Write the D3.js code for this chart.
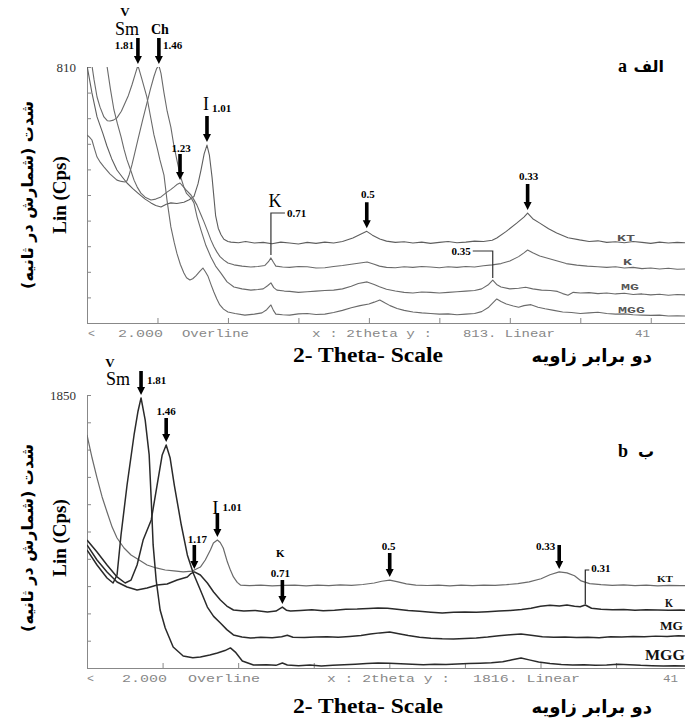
<!DOCTYPE html>
<html>
<head>
<meta charset="utf-8">
<script src="https://cdn.jsdelivr.net/npm/d3@7"></script>
<style>
  body { margin: 0; background: #fff; }
  text { font-family: "Liberation Serif", "DejaVu Serif", serif; }
  .fa { font-family: "DejaVu Sans", sans-serif; font-weight: bold; }
  .mono { font-family: "Liberation Mono", "DejaVu Sans Mono", monospace; }
</style>
</head>
<body>
<div id="chart"></div>
<script>
// ---- panel a (2theta, counts) ----
var ktA = [[2.0,815],[2.28,728],[2.57,652],[2.9,600],[3.13,560],[3.4,520],[3.7,484],[4.0,462],[4.27,443],[4.6,425],[4.89,411],[5.3,392],[5.63,380],[5.9,372],[6.2,367],[6.5,376],[6.76,380],[7.1,378],[7.5,382],[7.8,390],[8.07,400],[8.3,440],[8.47,484],[8.65,535],[8.81,563],[8.95,530],[9.1,460],[9.2,400],[9.3,340],[9.45,300],[9.6,280],[9.77,265],[10.0,258],[10.17,256],[10.6,254],[11.0,258],[11.5,253],[12.0,255],[12.5,251],[13.0,256],[13.5,253],[14.0,250],[14.5,255],[15.0,252],[15.5,256],[16.0,253],[16.5,258],[17.09,269],[17.5,280],[17.88,290],[18.2,278],[18.62,266],[19.0,259],[19.5,255],[20.0,257],[20.5,253],[21.0,256],[21.5,252],[22.0,255],[22.5,258],[23.0,254],[23.5,256],[24.0,259],[24.5,258],[25.0,262],[25.26,269],[25.8,290],[26.39,316],[26.8,335],[27.01,348],[27.3,330],[27.7,316],[28.2,298],[28.66,285],[29.3,270],[29.96,263],[30.5,258],[31.0,260],[31.5,255],[32.0,257],[32.5,254],[33.0,258],[33.5,255],[34.0,252],[34.5,256],[35.0,253],[35.5,255],[36.0,254]];
var kA = [[3.13,815],[3.33,740],[3.53,674],[3.73,630],[3.93,590],[4.1,550],[4.27,516],[4.5,480],[4.67,452],[4.85,430],[5.06,411],[5.3,398],[5.63,389],[5.9,392],[6.2,399],[6.54,414],[6.75,422],[6.93,430],[7.1,438],[7.28,443],[7.45,432],[7.62,421],[7.9,405],[8.05,392],[8.24,373],[8.45,345],[8.64,320],[8.85,290],[9.03,263],[9.2,242],[9.37,225],[9.55,210],[9.77,199],[10.0,190],[10.34,184],[10.8,180],[11.3,177],[11.7,179],[12.1,182],[12.3,194],[12.44,206],[12.58,192],[12.72,180],[13.1,177],[13.5,176],[14.0,179],[14.5,178],[15.0,174],[15.5,175],[16.0,179],[16.5,182],[17.0,186],[17.5,190],[17.9,193],[18.3,186],[18.6,180],[19.0,176],[19.5,175],[20.0,178],[20.5,176],[21.0,179],[21.5,177],[22.0,175],[22.5,178],[23.0,176],[23.5,179],[24.0,177],[24.5,181],[25.0,184],[25.5,188],[26.0,196],[26.5,210],[26.8,222],[27.01,231],[27.3,222],[27.7,212],[28.2,204],[28.7,196],[29.2,188],[29.8,183],[30.4,180],[31.0,178],[31.5,176],[32.0,178],[32.5,174],[33.0,176],[33.5,172],[34.0,174],[34.5,171],[35.0,173],[35.5,170],[36.0,171]];
var mgA = [[2.0,595],[2.14,588],[2.28,579],[2.43,550],[2.57,525],[2.76,508],[2.96,494],[3.3,472],[3.7,452],[3.95,448],[4.16,446],[4.27,450],[4.4,470],[4.55,500],[4.7,535],[4.89,580],[5.15,640],[5.4,696],[5.6,740],[5.8,780],[5.95,805],[6.08,815],[6.2,790],[6.37,728],[6.55,670],[6.76,620],[6.92,565],[7.1,516],[7.3,465],[7.5,430],[7.65,410],[7.84,399],[7.95,392],[8.07,380],[8.25,335],[8.47,294],[8.75,245],[9.03,209],[9.3,180],[9.6,158],[9.95,130],[10.34,114],[10.8,108],[11.3,104],[11.7,106],[12.0,108],[12.25,118],[12.44,127],[12.6,112],[12.78,104],[13.2,101],[13.5,100],[14.0,97],[14.5,99],[15.0,101],[15.5,103],[16.0,104],[16.5,108],[17.0,116],[17.4,125],[17.9,130],[18.3,122],[18.6,115],[19.0,107],[19.5,101],[20.0,97],[20.5,95],[21.0,98],[21.5,97],[22.0,95],[22.5,97],[23.0,99],[23.5,101],[24.0,103],[24.4,108],[24.8,122],[25.03,136],[25.25,122],[25.5,114],[26.0,108],[26.5,110],[26.9,113],[27.3,108],[27.8,104],[28.3,103],[28.7,100],[29.0,93],[29.3,88],[29.6,97],[30.0,95],[30.5,96],[31.0,93],[31.5,95],[32.0,92],[32.5,94],[33.0,90],[33.5,92],[34.0,89],[34.5,91],[35.0,88],[35.5,90],[36.0,89]];
var mggA = [[2.28,815],[2.4,770],[2.57,715],[2.74,683],[2.96,652],[3.15,640],[3.3,639],[3.5,642],[3.7,649],[3.95,670],[4.16,696],[4.35,720],[4.55,753],[4.75,790],[4.89,815],[5.1,775],[5.4,715],[5.6,655],[5.8,595],[6.0,550],[6.14,516],[6.37,468],[6.54,389],[6.76,304],[6.95,255],[7.1,221],[7.3,185],[7.5,158],[7.65,143],[7.84,136],[8.0,140],[8.18,149],[8.4,163],[8.58,174],[8.72,162],[8.86,149],[9.05,120],[9.2,98],[9.37,76],[9.54,57],[9.75,44],[10.0,35],[10.4,30],[10.96,25],[11.5,28],[11.93,32],[12.2,42],[12.44,57],[12.58,40],[12.72,28],[13.1,26],[13.5,25],[14.0,29],[14.5,30],[15.0,27],[15.5,28],[16.0,33],[16.5,40],[17.0,48],[17.5,55],[18.0,60],[18.3,66],[18.62,73],[18.9,64],[19.2,55],[19.6,46],[20.0,40],[20.5,35],[21.0,32],[21.5,30],[22.0,28],[22.5,29],[23.0,26],[23.5,28],[24.0,30],[24.4,36],[24.8,50],[25.26,76],[25.5,68],[25.8,60],[26.2,54],[26.5,50],[26.8,55],[27.2,58],[27.6,50],[28.0,45],[28.5,40],[29.0,35],[29.5,33],[30.0,30],[30.5,32],[31.0,34],[31.5,30],[32.0,28],[32.5,29],[33.0,26],[33.5,25],[34.0,24],[34.5,25],[35.0,22],[35.5,23],[36.0,22]];

// ---- panel b ----
var ktB = [[2.0,1579],[2.27,1423],[2.53,1288],[2.8,1159],[3.06,1057],[3.33,955],[3.59,881],[3.96,813],[4.33,766],[4.76,732],[5.18,698],[5.66,678],[6.14,664],[6.6,658],[7.09,651],[7.57,657],[8.0,684],[8.26,732],[8.53,800],[8.69,847],[8.9,867],[9.05,850],[9.21,813],[9.43,718],[9.6,660],[9.75,617],[9.95,580],[10.12,562],[10.6,558],[11.2,562],[11.8,556],[12.4,560],[13.0,562],[13.6,557],[14.2,561],[14.8,558],[15.4,563],[16.0,560],[16.6,566],[17.2,576],[17.6,588],[18.02,596],[18.4,585],[18.9,570],[19.4,562],[20.0,559],[20.6,562],[21.2,557],[21.8,561],[22.4,558],[23.0,562],[23.6,560],[24.2,565],[24.8,572],[25.4,584],[26.03,605],[26.5,632],[26.99,651],[27.4,645],[27.8,625],[28.15,590],[28.6,572],[29.2,565],[29.8,560],[30.4,563],[31.0,558],[31.6,561],[32.2,557],[32.8,560],[33.4,558],[33.7,559]];
var kB = [[2.0,834],[2.53,732],[3.06,651],[3.59,583],[4.12,549],[4.65,529],[5.18,542],[5.71,562],[6.24,569],[6.77,596],[7.31,617],[7.5,640],[7.68,651],[8.0,630],[8.37,576],[8.7,515],[9.06,461],[9.4,420],[9.75,393],[10.3,386],[10.9,390],[11.55,380],[12.0,386],[12.34,413],[12.55,392],[12.77,386],[13.3,390],[13.9,394],[14.5,388],[15.1,392],[15.7,398],[16.3,400],[16.9,404],[17.4,407],[17.9,405],[18.4,398],[19.0,390],[19.6,384],[20.2,378],[20.8,373],[21.4,377],[22.0,380],[22.6,377],[23.2,382],[23.8,386],[24.4,390],[25.0,396],[25.5,405],[26.0,418],[26.5,425],[27.0,420],[27.4,427],[27.8,418],[28.1,415],[28.37,427],[28.7,405],[29.2,398],[29.8,394],[30.4,396],[31.0,392],[31.6,395],[32.2,393],[32.8,391],[33.4,393],[33.7,392]];
var mgB = [[2.0,867],[2.53,786],[3.06,698],[3.59,617],[4.02,576],[4.33,596],[4.65,698],[4.97,867],[5.4,1003],[5.71,1240],[5.98,1444],[6.19,1511],[6.4,1423],[6.62,1240],[6.99,969],[7.31,766],[7.62,644],[8.0,529],[8.37,413],[8.7,350],[9.06,305],[9.4,260],[9.75,224],[10.2,210],[10.65,203],[11.2,208],[11.8,205],[12.3,212],[12.6,222],[12.9,208],[13.5,206],[14.1,210],[14.7,212],[15.3,208],[15.9,214],[16.5,220],[17.0,230],[17.5,238],[18.02,244],[18.5,232],[19.0,220],[19.6,208],[20.2,202],[20.8,198],[21.4,197],[22.0,200],[22.6,204],[23.2,210],[23.8,218],[24.4,226],[24.97,230],[25.5,222],[26.1,212],[26.7,208],[27.3,210],[27.9,206],[28.5,209],[29.1,205],[29.7,212],[30.3,210],[30.9,214],[31.5,212],[32.1,216],[32.7,214],[33.3,218],[33.7,217]];
var mggB = [[2.0,800],[2.53,698],[3.06,610],[3.38,576],[3.59,630],[3.8,901],[4.12,1240],[4.49,1579],[4.7,1740],[4.86,1830],[5.08,1680],[5.29,1444],[5.4,1139],[5.5,834],[5.66,596],[5.87,393],[6.14,271],[6.56,142],[7.09,81],[7.6,70],[8.0,75],[8.5,88],[8.9,102],[9.3,118],[9.59,136],[9.85,108],[10.22,47],[10.81,20],[11.5,22],[12.0,18],[12.34,34],[12.6,20],[13.2,16],[13.8,20],[14.4,14],[15.0,18],[15.6,22],[16.2,26],[16.8,30],[17.4,34],[18.0,32],[18.6,28],[19.2,25],[19.8,22],[20.4,25],[21.0,24],[21.6,27],[22.2,30],[22.8,33],[23.4,36],[24.0,42],[24.5,56],[24.97,68],[25.4,55],[25.9,40],[26.5,30],[27.1,24],[27.7,20],[28.3,22],[28.9,18],[29.5,20],[30.1,26],[30.7,22],[31.3,18],[31.9,16],[32.5,14],[33.1,15],[33.7,14]];

// arrow annotations: [d-spacing label, 2theta, counts at peak]
var arrowsA = [["1.81",4.89,810],["1.46",6.08,810],["1.23",7.28,443],["1.01",8.81,563],["0.5",17.88,290],["0.33",27.01,348]];
var arrowsB = [["1.81",4.86,1830],["1.46",6.19,1511],["1.17",7.68,651],["1.01",8.9,867],["0.71",12.34,413],["0.5",18.02,596],["0.33",26.99,651]];
var seriesNames = ["KT","K","MG","MGG"];
var footA = ["<","2.000","Overline","x : 2theta y :","813. Linear","41"];
var footB = ["<","2.000","Overline","x : 2theta y :","1816. Linear","41"];

var svg = d3.select("#chart").append("svg").attr("width", 685).attr("height", 722);

function panel(p) {
  var x = d3.scaleLinear().domain(p.xDomain).range([87, 686]);
  var y = d3.scaleLinear().domain([0, p.yMax]).range([p.bottom, p.top]);
  var g = svg.append("g");

  svg.append("clipPath").attr("id", "clip" + p.id).append("rect")
    .attr("x", 87).attr("y", p.top).attr("width", 600).attr("height", p.bottom - p.top);

  // axes
  g.append("g").attr("transform", "translate(0," + p.bottom + ")")
    .call(d3.axisBottom(x).tickValues([6,10,14,18,22,26,30,34].filter(function(t){ return t < p.xDomain[1]; }))
      .tickSize(-5).tickSizeOuter(0).tickFormat(""));
  var ya = g.append("g").attr("transform", "translate(87,0)")
    .call(d3.axisLeft(y).tickValues(d3.range(0, p.yMax + 1, p.yMax / 10))
      .tickSize(-4).tickSizeOuter(0).tickPadding(11)
      .tickFormat(function(d){ return d === p.yMax ? p.yMax : ""; }));
  g.selectAll(".domain").attr("stroke", "#888");
  g.selectAll(".tick line").attr("stroke", "#888");
  ya.selectAll("text").attr("font-size", 13).attr("fill", "#333")
    .attr("font-family", "Liberation Serif, serif");

  // traces
  var line = d3.line().x(function(d){ return x(d[0]); }).y(function(d){ return y(d[1]); });
  p.series.forEach(function(s, i) {
    g.append("path").datum(s)
      .attr("clip-path", "url(#clip" + p.id + ")")
      .attr("fill", "none")
      .attr("stroke", p.colors[i])
      .attr("stroke-width", p.widths[i])
      .attr("stroke-linejoin", "round")
      .attr("d", line);
  });

  // instrument text under the axis
  p.foot.forEach(function(t, i) {
    g.append("text").attr("class", "mono")
      .attr("x", p.footX[i]).attr("y", p.bottom + 14)
      .attr("font-size", 11).attr("fill", "#888")
      .attr("textLength", p.footW[i]).attr("lengthAdjust", "spacingAndGlyphs")
      .text(t);
  });

  return {x: x, y: y, g: g};
}

function arrow(g, ax, tip, len) {
  var top = tip - len;
  g.append("path")
    .attr("d", "M" + (ax - 1.8) + "," + top + "L" + (ax + 1.8) + "," + top +
      "L" + (ax + 1.8) + "," + (tip - 8) + "L" + (ax + 4) + "," + (tip - 8) +
      "L" + ax + "," + tip + "L" + (ax - 4) + "," + (tip - 8) +
      "L" + (ax - 1.8) + "," + (tip - 8) + "Z")
    .attr("fill", "#000");
  return top;
}

function label(g, t, xx, yy, size, anchor, weight) {
  return g.append("text").attr("x", xx).attr("y", yy)
    .attr("font-size", size).attr("font-weight", weight || "bold")
    .attr("text-anchor", anchor || "start").attr("fill", "#000").text(t);
}

// ===== panel a =====
var A = panel({
  id: "a", xDomain: [2, 36], yMax: 810, top: 67, bottom: 323,
  series: [ktA, kA, mgA, mggA],
  colors: ["#5e5e5e", "#6a6a6a", "#6a6a6a", "#6a6a6a"],
  widths: [1.1, 1.1, 1.1, 1.1],
  foot: footA, footX: [88, 118, 182, 312, 463, 635], footW: [7, 45, 67, 120, 92, 15]
});

var pos = {};
arrowsA.forEach(function(a) {
  var ax = A.x(a[1]);
  var tip = A.y(Math.min(a[2], 810)) - 3;
  var top = arrow(A.g, ax, tip, 26);
  pos[a[0]] = {x: ax, top: top};
  if (a[0] === "1.81") label(A.g, a[0], ax - 4, top + 11, 11, "end");
  else if (a[0] === "1.46") label(A.g, a[0], ax + 4, top + 11, 11, "start");
  else if (a[0] === "1.23") label(A.g, a[0], ax + 1, top - 2, 11, "middle");
  else if (a[0] === "1.01") {
    label(A.g, "I", ax - 1, top - 6, 18, "middle", "normal");
    label(A.g, a[0], ax + 5, top - 4, 11, "start");
  }
  else label(A.g, a[0], ax + 1, top - 4, 11, "middle");
});
// mineral names over the first peaks
label(A.g, "V", pos["1.81"].x - 13, pos["1.81"].top - 22, 13, "middle");
label(A.g, "Sm", pos["1.81"].x - 11, pos["1.81"].top - 3, 18, "middle", "normal");
label(A.g, "Ch", pos["1.46"].x - 8, pos["1.46"].top - 4, 14, "start");

// K 0.71 leader (K trace)
(function() {
  var lx = A.x(12.44), ly = A.y(206) - 3, hy = 213;
  A.g.append("path").attr("d", "M" + lx + "," + ly + "V" + hy + "H" + (lx + 14))
    .attr("fill", "none").attr("stroke", "#333").attr("stroke-width", 1.2);
  label(A.g, "K", lx + 4, 207, 18, "middle", "normal");
  label(A.g, "0.71", lx + 16, 217, 11, "start");
})();
// 0.35 leader (MG trace)
(function() {
  var lx = A.x(25.03), ly = A.y(136) - 2, hy = 251;
  A.g.append("path").attr("d", "M" + lx + "," + ly + "V" + hy + "H" + (lx - 20))
    .attr("fill", "none").attr("stroke", "#333").attr("stroke-width", 1.2);
  label(A.g, "0.35", lx - 22, 255, 11, "end");
})();
// series names
[[617, 241, 18], [623, 265, 9], [621, 290, 18], [618, 313, 27]].forEach(function(s, i) {
  A.g.append("text").attr("class", "mono").attr("x", s[0]).attr("y", s[1])
    .attr("font-size", 9).attr("font-weight", "bold").attr("fill", "#555")
    .attr("textLength", s[2]).attr("lengthAdjust", "spacingAndGlyphs").text(seriesNames[i]);
});
// panel letter
label(A.g, "a", 618, 72, 18, "start");
A.g.append("text").attr("class", "fa").attr("x", 664).attr("y", 72).attr("font-size", 16)
  .attr("text-anchor", "end").text("الف");

// ===== panel b =====
var B = panel({
  id: "b", xDomain: [2, 33.7], yMax: 1850, top: 395, bottom: 668,
  series: [ktB, kB, mgB, mggB],
  colors: ["#6a6a6a", "#2a2a2a", "#2a2a2a", "#2a2a2a"],
  widths: [1.2, 1.5, 1.5, 1.5],
  foot: footB, footX: [87, 122, 188, 327, 473, 663], footW: [7, 45, 72, 123, 107, 15]
});

var posB = {};
arrowsB.forEach(function(a) {
  var ax = B.x(a[1]);
  var tip = B.y(a[2]) - 3;
  var top = arrow(B.g, ax, tip, 24);
  posB[a[0]] = {x: ax, top: top};
  if (a[0] === "1.81") label(B.g, a[0], ax + 6, top + 13, 11, "start");
  else if (a[0] === "1.46") label(B.g, a[0], ax, top - 3, 11, "middle");
  else if (a[0] === "1.17") label(B.g, a[0], ax + 3, top - 2, 11, "middle");
  else if (a[0] === "1.01") {
    label(B.g, "I", ax - 2, top + 1, 19, "middle", "normal");
    label(B.g, a[0], ax + 5, top - 2, 11, "start");
  }
  else if (a[0] === "0.71") {
    label(B.g, "K", ax - 2, top - 23, 11, "middle");
    label(B.g, a[0], ax - 2, top - 3, 11, "middle");
  }
  else if (a[0] === "0.33") label(B.g, a[0], ax - 4, top + 5, 11, "end");
  else label(B.g, a[0], ax - 1, top - 3, 11, "middle");
});
label(B.g, "V", posB["1.81"].x - 31, 367, 13, "middle");
label(B.g, "Sm", posB["1.81"].x - 23, 385, 18, "middle", "normal");

// 0.31 leader (K trace)
(function() {
  var lx = B.x(28.37), ly = B.y(427) - 1, hy = 570;
  B.g.append("path").attr("d", "M" + lx + "," + ly + "V" + hy + "H" + (lx + 4))
    .attr("fill", "none").attr("stroke", "#222").attr("stroke-width", 1.2);
  label(B.g, "0.31", lx + 6, 572, 11, "start");
})();
[[657, 582, 9, 16], [665, 607, 12, 8], [660, 630, 13, 23], [645, 660, 14, 40]].forEach(function(s, i) {
  B.g.append("text").attr("x", s[0]).attr("y", s[1])
    .attr("font-size", s[2]).attr("font-weight", "bold").attr("fill", "#111")
    .attr("textLength", s[3]).attr("lengthAdjust", "spacingAndGlyphs").text(seriesNames[i]);
});
label(B.g, "b", 618, 457, 18, "start");
B.g.append("text").attr("class", "fa").attr("x", 654).attr("y", 457).attr("font-size", 16)
  .attr("text-anchor", "end").text("ب");

// ===== axis titles =====
[[362, 195], [713, 538]].forEach(function(t) {
  svg.append("text").attr("x", 293).attr("y", t[0]).attr("font-size", 20).attr("font-weight", "bold")
    .attr("textLength", 150).attr("lengthAdjust", "spacingAndGlyphs").text("2- Theta- Scale");
  svg.append("text").attr("class", "fa").attr("x", 652).attr("y", t[0]).attr("font-size", 18)
    .attr("text-anchor", "end").text("دو برابر زاویه");
  svg.append("text").attr("transform", "translate(66," + t[1] + ") rotate(-90)")
    .attr("font-size", 19).attr("font-weight", "bold").attr("text-anchor", "middle").text("Lin (Cps)");
  svg.append("text").attr("class", "fa").attr("transform", "translate(33," + t[1] + ") rotate(-90)")
    .attr("font-size", 16).attr("text-anchor", "middle").text("شدت (شمارش در ثانیه)");
});
</script>
</body>
</html>
